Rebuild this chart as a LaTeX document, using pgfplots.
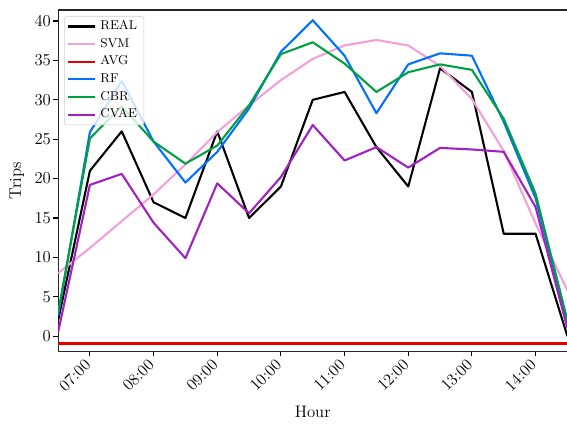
\documentclass[border=0pt]{standalone}
\usepackage{pgfplots}
\pgfplotsset{compat=1.18}
\definecolor{cReal}{RGB}{0,0,0}
\definecolor{cSVM}{RGB}{242,160,218}
\definecolor{cAVG}{RGB}{232,0,0}
\definecolor{cRF}{RGB}{0,112,255}
\definecolor{cCBR}{RGB}{0,160,64}
\definecolor{cCVAE}{RGB}{160,32,192}
\begin{document}
\begin{tikzpicture}
\begin{axis}[
  at={(0,0)}, anchor=south west,
  scale only axis, width=366.5pt, height=245.5pt,
  xmin=6.5, xmax=14.5, ymin=-1.9, ymax=41.4,
  xtick={7,8,9,10,11,12,13,14},
  xticklabels={07:00,08:00,09:00,10:00,11:00,12:00,13:00,14:00},
  ytick={0,5,10,15,20,25,30,35,40},
  xtick pos=bottom, ytick pos=left,
  tick align=outside, major tick length=3.5pt,
  tick style={black, line width=0.8pt},
  axis line style={black!85, line width=0.8pt},
  ticklabel style={font=\fontsize{11.8}{13}\selectfont},
  xticklabel style={xshift=-4.5pt, rotate=45, anchor=north east, inner sep=1pt},
  yticklabel style={inner sep=1.5pt},
  xlabel={Hour}, ylabel={Trips},
  label style={font=\fontsize{12}{14}\selectfont},
  xlabel style={at={(axis description cs:0.5,0)}, anchor=center, yshift=-44pt},
  ylabel style={at={([xshift=-29.6pt]axis description cs:0,0.5)}, anchor=center},
  legend style={at={(0,1)}, anchor=north west, xshift=4.3pt, yshift=-4.3pt,
    draw=black!20, rounded corners=2pt, fill=white, fill opacity=0.8, text opacity=1,
    font=\fontsize{9.2}{11}\selectfont, inner xsep=2pt, inner ysep=1pt,
    nodes={text height=6.5pt, text depth=2pt, inner ysep=2.1pt, inner xsep=3pt},
    cells={anchor=west}},
  legend image code/.code={\draw[#1] (0pt,0pt) -- (19.4pt,0pt);},
  every axis plot/.append style={line width=1.5pt, line join=round, mark=none},
]
\addplot[cReal] coordinates {(6.5,2) (7,21) (7.5,26) (8,17) (8.5,15) (9,26) (9.5,15) (10,19) (10.5,30) (11,31) (11.5,24) (12,19) (12.5,34) (13,31) (13.5,13) (14,13) (14.5,0)};
\addlegendentry{REAL}
\addplot[cSVM] coordinates {(6.5,8.0) (7,11.2) (7.5,14.6) (8,18.0) (8.5,21.8) (9,25.9) (9.5,29.3) (10,32.5) (10.5,35.2) (11,36.9) (11.5,37.6) (12,36.9) (12.5,34.3) (13,30.1) (13.5,23.5) (14,14.3) (14.5,5.8)};
\addlegendentry{SVM}
\addplot[cAVG] coordinates {(6.5,-0.93) (7,-0.93) (7.5,-0.93) (8,-0.93) (8.5,-0.93) (9,-0.93) (9.5,-0.93) (10,-0.93) (10.5,-0.93) (11,-0.93) (11.5,-0.93) (12,-0.93) (12.5,-0.93) (13,-0.93) (13.5,-0.93) (14,-0.93) (14.5,-0.93)};
\addlegendentry{AVG}
\addplot[cRF] coordinates {(6.5,2.6) (7,25.9) (7.5,32.4) (8,24.7) (8.5,19.5) (9,23.4) (9.5,28.9) (10,36.1) (10.5,40.1) (11,35.6) (11.5,28.3) (12,34.5) (12.5,35.9) (13,35.6) (13.5,27.2) (14,17.5) (14.5,1.8)};
\addlegendentry{RF}
\addplot[cCBR] coordinates {(6.5,3.0) (7,25.1) (7.5,29.2) (8,24.7) (8.5,21.9) (9,24.2) (9.5,29.3) (10,35.8) (10.5,37.3) (11,34.6) (11.5,31.0) (12,33.5) (12.5,34.5) (13,33.8) (13.5,27.6) (14,18.1) (14.5,2.0)};
\addlegendentry{CBR}
\addplot[cCVAE] coordinates {(6.5,0.5) (7,19.2) (7.5,20.6) (8,14.4) (8.5,9.9) (9,19.4) (9.5,15.6) (10,20.2) (10.5,26.8) (11,22.3) (11.5,24.0) (12,21.4) (12.5,23.9) (13,23.7) (13.5,23.4) (14,16.4) (14.5,1.0)};
\addlegendentry{CVAE}
\end{axis}
\pgfresetboundingbox
\path (-41.8pt,-52.6pt) rectangle (366.2pt,252.7pt);
\end{tikzpicture}
\end{document}
